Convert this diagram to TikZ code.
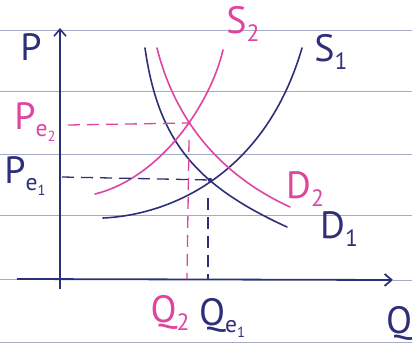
\documentclass[tikz,border=0pt]{standalone}
\usepackage{fontspec}
\setmainfont{PT Sans}
\usetikzlibrary{arrows.meta}
\definecolor{ink}{RGB}{45,48,120}
\definecolor{pinkink}{RGB}{222,68,160}
\definecolor{rule}{RGB}{165,170,198}
\newcommand{\dn}[1]{\raisebox{-0.4ex}{\scalebox{0.62}{#1}}}
\tikzset{
  curve/.style={line width=1.6pt, line cap=round},
  navy/.style={draw=ink},
  pink/.style={draw=pinkink},
  guide/.style={line width=1.3pt, dash pattern=on 12pt off 7pt},
  lab/.style={inner sep=0pt, font=\fontsize{38}{40}\selectfont},
  ruled/.style={draw=rule, line width=1pt}
}
\begin{document}
\begin{tikzpicture}[x=1pt,y=-1pt]
\useasboundingbox (0,0) rectangle (412,347);
\fill[white] (0,0) rectangle (412,347);
% paper lines
\foreach \yy in {31,92,155,216,342}
  \draw[ruled] (0,\yy) -- (412,\yy);
\draw[ruled] (0,279) -- (18,279);
\draw[ruled] (393,280) -- (412,280);
% axes
\coordinate (ytop) at (60,28);
\coordinate (ybot) at (60,289);
\coordinate (xl) at (17,279);
\coordinate (xr) at (393,280);
\draw[ink, line width=1.6pt, -{Straight Barb[length=7pt,width=12pt]}] (ybot) -- (ytop);
\draw[ink, line width=1.8pt, -{Straight Barb[length=7pt,width=12pt]}] (xl) -- (xr);
% intersections
\coordinate (e1) at (210,180);
\coordinate (e2) at (189,123);
% curves
\draw[curve,navy] (103,218) .. controls (170,215) and (265,175) .. (302,48);
\draw[curve,navy] (145,48) .. controls (158,140) and (195,185) .. (287,227);
\draw[curve,pink] (95,194) .. controls (160,178) and (210,105) .. (223,50);
\draw[curve,pink] (157,48) .. controls (175,120) and (220,175) .. (290,207);
\fill[ink] (e1) circle (2.2pt);
\fill[pinkink] (e2) circle (1.8pt);
% guides
\coordinate (pe2) at (68,125);
\coordinate (pe1) at (62,177);
\coordinate (q2) at (187,279);
\coordinate (qe1) at (208,279);
\draw[guide,pinkink] (pe2) -- (e2);
\draw[guide,pinkink] (e2 |- 0,140) -- (q2);
\draw[guide,ink] (pe1) -- (e1);
\draw[guide,ink] (qe1 |- 0,198) -- (qe1);
% labels
\node[lab,text=ink] (lP) at (31,47) {P};
\node[lab,text=ink] (lQ) at (399,323) {Q};
\node[lab,text=pinkink] (lS2) at (243,24) {S\dn{2}};
\node[lab,text=ink] (lS1) at (331,52) {S\dn{1}};
\node[lab,text=pinkink] (lPe2) at (35,122) {P\dn{e\dn{2}}};
\node[lab,text=ink] (lPe1) at (25,176) {P\dn{e\dn{1}}};
\node[lab,text=pinkink] (lD2) at (305,189) {D\dn{2}};
\node[lab,text=ink] (lD1) at (339,229) {D\dn{1}};
\node[lab,text=pinkink] (lQ2) at (170,313) {Q\dn{2}};
\node[lab,text=ink] (lQe1) at (222,318) {Q\dn{e\dn{1}}};
\end{tikzpicture}
\end{document}
